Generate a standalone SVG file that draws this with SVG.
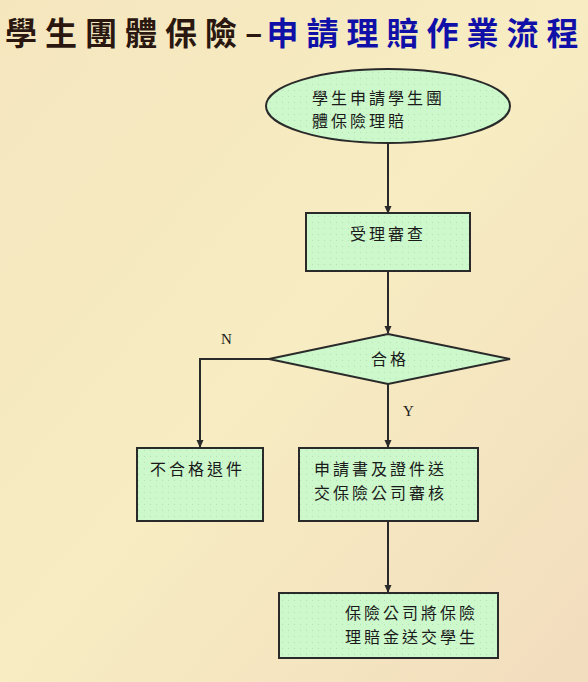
<svg xmlns="http://www.w3.org/2000/svg" width="588" height="682" viewBox="0 0 588 682">
<defs>
<linearGradient id="bg" x1="0" y1="0" x2="1" y2="1">
<stop offset="0" stop-color="#F5E6BE"/>
<stop offset="0.5" stop-color="#F7ECC2"/>
<stop offset="1" stop-color="#F2DDBE"/>
</linearGradient>
<pattern id="dots" width="6" height="6" patternUnits="userSpaceOnUse">
<rect width="6" height="6" fill="#CCF8CC"/>
<rect x="0" y="0" width="1" height="1" fill="#B8E0B8"/>
</pattern>
<marker id="arr" markerWidth="8" markerHeight="8" refX="7" refY="4" orient="auto" markerUnits="userSpaceOnUse">
<path d="M0,0.5 L8,4 L0,7.5 Z" fill="#2a2a2a"/>
</marker>
</defs>
<style>
.node{fill:url(#dots);stroke:#2a2a2a;stroke-width:2}
.t{font-family:"Noto Sans CJK TC","Noto Sans CJK SC",sans-serif;font-size:16px;fill:#1a1a1a;letter-spacing:3px}
.lbl{font-family:"Liberation Serif",serif;font-size:15px;fill:#1a1a1a}
.c{fill:none;stroke:#2a2a2a;stroke-width:2}
</style>
<rect width="588" height="682" fill="url(#bg)"/>
<text x="5" y="45" font-family="'Noto Sans CJK TC','Noto Sans CJK SC',sans-serif" font-size="32" font-weight="bold" letter-spacing="8"><tspan fill="#2a1810">學生團體保險</tspan><tspan fill="#2a1810" letter-spacing="4">–</tspan><tspan fill="#1010A8">申請理賠作業流程</tspan></text>
<g id="connectors">
<path class="c" d="M388,143 L388,213" marker-end="url(#arr)"/>
<path class="c" d="M388,271 L388,333" marker-end="url(#arr)"/>
<path class="c" d="M269,359 L200,359 L200,447" marker-end="url(#arr)"/>
<path class="c" d="M388,383 L388,447" marker-end="url(#arr)"/>
<path class="c" d="M388,521 L388,592" marker-end="url(#arr)"/>
<text class="lbl" x="221" y="344">N</text>
<text class="lbl" x="403" y="416">Y</text>
</g>
<g id="start">
<ellipse class="node" cx="388" cy="106" rx="122" ry="37"/>
<text class="t" x="312" y="104">學生申請學生團</text>
<text class="t" x="312" y="127">體保險理賠</text>
</g>
<g id="review">
<rect class="node" x="306" y="213" width="164" height="58"/>
<text class="t" x="350" y="240">受理審查</text>
</g>
<g id="decision">
<polygon class="node" points="388,334 510,359 388,384 269,359"/>
<text class="t" x="371" y="365">合格</text>
</g>
<g id="reject">
<rect class="node" x="137" y="448" width="126" height="73"/>
<text class="t" x="150" y="475">不合格退件</text>
</g>
<g id="submit">
<rect class="node" x="299" y="448" width="179" height="73"/>
<text class="t" x="314" y="475">申請書及證件送</text>
<text class="t" x="314" y="499">交保險公司審核</text>
</g>
<g id="pay">
<rect class="node" x="279" y="593" width="219" height="65"/>
<text class="t" x="345" y="619">保險公司將保險</text>
<text class="t" x="345" y="643">理賠金送交學生</text>
</g>
</svg>
